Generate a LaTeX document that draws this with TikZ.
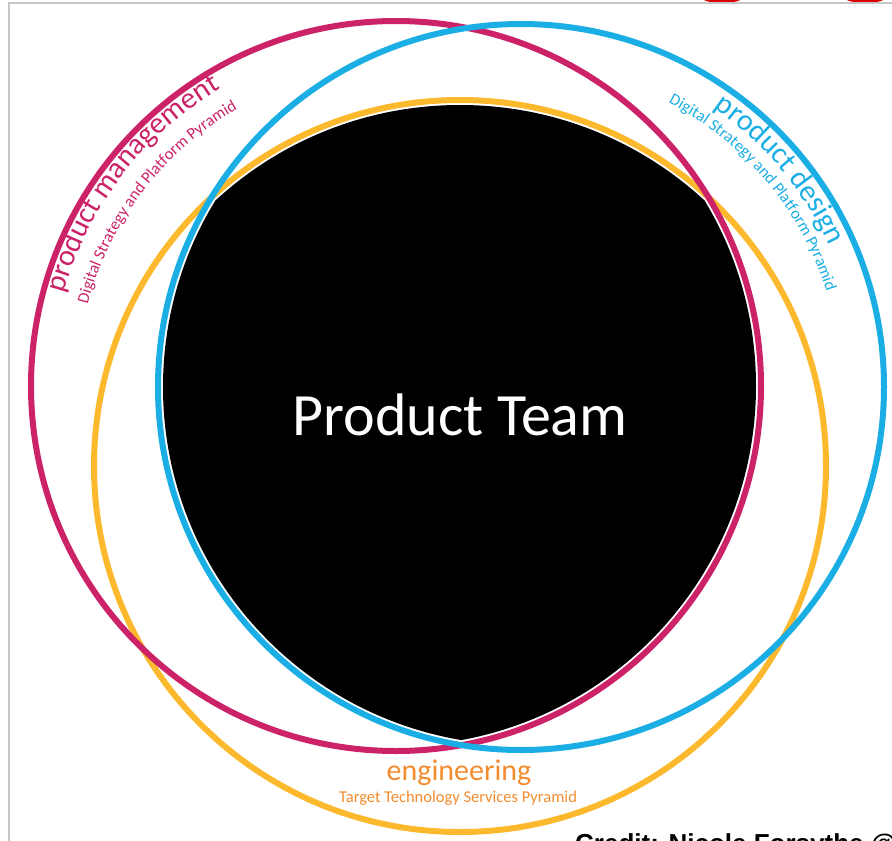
\documentclass[tikz,border=0pt]{standalone}
\usepackage{fontspec}
\setmainfont{Carlito}
\newfontfamily\creditfont{Liberation Sans}
\usetikzlibrary{decorations.text}
\definecolor{pmcol}{RGB}{204,34,104}
\definecolor{pdcol}{RGB}{27,174,228}
\definecolor{engcol}{RGB}{253,185,45}
\definecolor{engtext}{RGB}{242,140,46}
\tikzset{
  ring/.style={line width=6pt, draw=#1},
  arclabel/.style args={#1/#2/#3}{% #1=colour, #2=size, #3=text
    decorate, decoration={text along path, text align=center, text color=#1,
      text={|\fontsize{#2}{#2}\selectfont|#3}}
}}

\begin{document}
\begin{tikzpicture}[x=1pt, y=-1pt]
  \useasboundingbox (0,0) rectangle (892,841);
  \clip (0,0) rectangle (892,841);
  \fill[red!85!black] (722,-3) ellipse (21pt and 6pt) (865,-3) ellipse (21pt and 6pt);
  \draw[gray!45, line width=1.5pt] (9,841) -- (9,3) -- (892,3);

  \coordinate (pm) at (396,386);
  \coordinate (pd) at (521,387);
  \coordinate (eng) at (460,466);

  % black core
  \begin{scope}
    \clip (pm) circle (360pt);
    \clip (pd) circle (358pt);
    \fill (eng) circle (361pt);
  \end{scope}

  \draw[ring=engcol] (eng) circle (366pt);
  \draw[ring=pmcol] (pm) circle (365pt);
  \draw[ring=pdcol] (pd) circle (363pt);

  \path[arclabel=pmcol/30/product management] ([shift={(175:345pt)}]pm) arc (175:110:345pt);
  \path[arclabel=pmcol/16.5/Digital Strategy and Platform Pyramid] ([shift={(175:319pt)}]pm) arc (175:110:319pt);
  \path[arclabel=pdcol/30/product design] ([shift={(72:339pt)}]pd) arc (72:8:339pt);
  \path[arclabel=pdcol/16.5/Digital Strategy and Platform Pyramid] ([shift={(72:320pt)}]pd) arc (72:8:320pt);

  \node[text=white, font=\fontsize{60}{60}\selectfont, anchor=base] (team) at (460,435) {Product Team};
  \node[text=engtext, font=\fontsize{30}{30}\selectfont, anchor=base] (engname) at (459,780) {engineering};
  \node[text=engtext, font=\fontsize{16.5}{16.5}\selectfont, anchor=base] (engsub) at (458,802) {Target Technology Services Pyramid};
  \node[font=\creditfont\bfseries\fontsize{26}{26}\selectfont, anchor=base west, inner sep=0pt] (credit) at (575,852) {Credit: Nicole Forsythe @};
\end{tikzpicture}
\end{document}
